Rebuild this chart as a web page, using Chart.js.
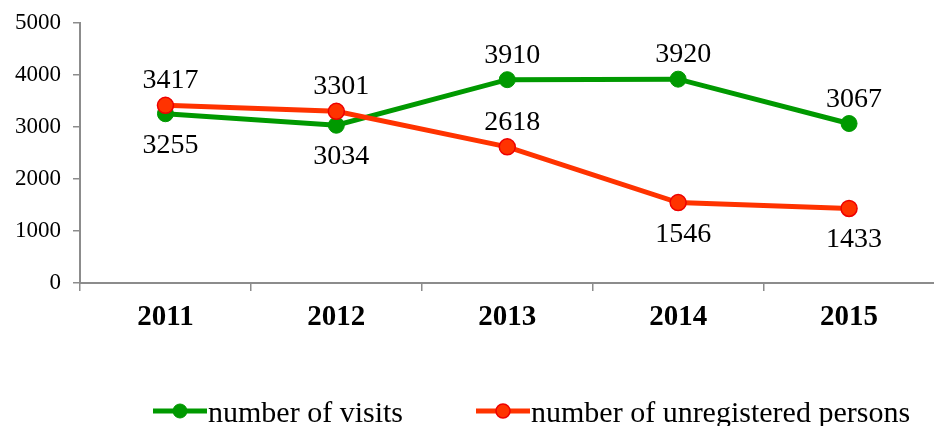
<!DOCTYPE html>
<html>
<head>
<meta charset="utf-8">
<script src="https://cdn.jsdelivr.net/npm/chart.js@4"></script>
<style>
    html, body { margin: 0; padding: 0; background: #fff; overflow: hidden; }
    canvas { display: block; }
</style>
</head>
<body>
<canvas id="visitsChart" width="944" height="426"></canvas>
<script>
const years = ['2011', '2012', '2013', '2014', '2015'];
const visits = [3255, 3034, 3910, 3920, 3067];
const unregistered = [3417, 3301, 2618, 1546, 1433];
const yTicks = [0, 1000, 2000, 3000, 4000, 5000];
// where each value label sits relative to its point
const visitsLabelSide = ['below', 'below', 'above', 'above', 'above'];
const unregisteredLabelSide = ['above', 'above', 'above', 'below', 'below'];

const GREEN = '#009900';
const RED = '#ff3300';
const AXIS = '#8c8c8c';
const SERIF = '"Liberation Serif", "Times New Roman", serif';

let valueLabels = {
    id: 'valueLabels',
    afterDatasetsDraw(chart) {
        const ctx = chart.ctx;
        ctx.save();
        ctx.font = '28px ' + SERIF;
        ctx.fillStyle = '#000';
        ctx.textAlign = 'center';
        ctx.textBaseline = 'alphabetic';
        chart.data.datasets.forEach((ds, i) => {
            let meta = chart.getDatasetMeta(i);
            meta.data.forEach((pt, j) => {
                let y = ds.labelSide[j] === 'above' ? pt.y - 17 : pt.y + 39;
                ctx.fillText(String(ds.data[j]), pt.x + 5, y);
            });
        });
        ctx.restore();
    }
};

let lineLegend = {
    id: 'lineLegend',
    afterDraw(chart) {
        const ctx = chart.ctx;
        const starts = [153, 476];
        ctx.save();
        chart.data.datasets.forEach((ds, i) => {
            let x = starts[i], y = 411;
            ctx.strokeStyle = ds.borderColor;
            ctx.lineWidth = 5;
            ctx.beginPath();
            ctx.moveTo(x, y);
            ctx.lineTo(x + 54, y);
            ctx.stroke();
            ctx.beginPath();
            ctx.arc(x + 27, y, 7, 0, Math.PI * 2);
            ctx.fillStyle = ds.pointBackgroundColor;
            ctx.fill();
            ctx.lineWidth = ds.pointBorderWidth;
            ctx.strokeStyle = ds.pointBorderColor;
            ctx.stroke();
            ctx.fillStyle = '#000';
            ctx.font = '30px ' + SERIF;
            ctx.textAlign = 'left';
            ctx.textBaseline = 'alphabetic';
            ctx.fillText(ds.label, x + 55, 422);
        });
        ctx.restore();
    }
};

new Chart(document.getElementById('visitsChart'), {
    type: 'line',
    data: {
        labels: years,
        datasets: [{
            label: 'number of visits',
            data: visits,
            labelSide: visitsLabelSide,
            borderColor: GREEN,
            backgroundColor: GREEN,
            borderWidth: 5,
            pointRadius: 8,
            pointBackgroundColor: GREEN,
            pointBorderColor: GREEN,
            pointBorderWidth: 1,
            tension: 0,
            order: 1
        }, {
            label: 'number of unregistered persons',
            data: unregistered,
            labelSide: unregisteredLabelSide,
            borderColor: RED,
            backgroundColor: RED,
            borderWidth: 5,
            pointRadius: 8,
            pointBackgroundColor: RED,
            pointBorderColor: '#ee0000',
            pointBorderWidth: 1.5,
            tension: 0,
            order: 0
        }]
    },
    options: {
        responsive: false,
        animation: false,
        layout: { padding: { top: 23, left: 0, right: 4, bottom: 0 } },
        plugins: {
            legend: { display: false },
            tooltip: { enabled: false }
        },
        scales: {
            x: {
                offset: true,
                border: { color: AXIS, width: 2 },
                grid: {
                    offset: true,
                    drawOnChartArea: false,
                    drawTicks: true,
                    tickLength: 8,
                    color: AXIS,
                    lineWidth: 1.5
                },
                ticks: {
                    color: '#000',
                    padding: 9,
                    maxRotation: 0,
                    font: { family: SERIF, size: 29, weight: 'bold' }
                },
                afterFit(scale) {
                    scale.height = 143;
                    scale.paddingLeft = 0;
                    scale.paddingRight = 0;
                }
            },
            y: {
                min: yTicks[0],
                max: yTicks[yTicks.length - 1],
                border: { color: AXIS, width: 2 },
                grid: {
                    drawOnChartArea: false,
                    drawTicks: true,
                    tickLength: 7,
                    color: AXIS,
                    lineWidth: 1.5
                },
                ticks: {
                    color: '#000',
                    padding: 12,
                    font: { family: SERIF, size: 23 },
                    callback: (v) => String(v)
                },
                afterBuildTicks(scale) {
                    scale.ticks = yTicks.map((v) => ({ value: v }));
                },
                afterFit(scale) {
                    scale.width = 80;
                    scale.paddingTop = 0;
                    scale.paddingBottom = 0;
                }
            }
        }
    },
    plugins: [valueLabels, lineLegend]
});
</script>
</body>
</html>
